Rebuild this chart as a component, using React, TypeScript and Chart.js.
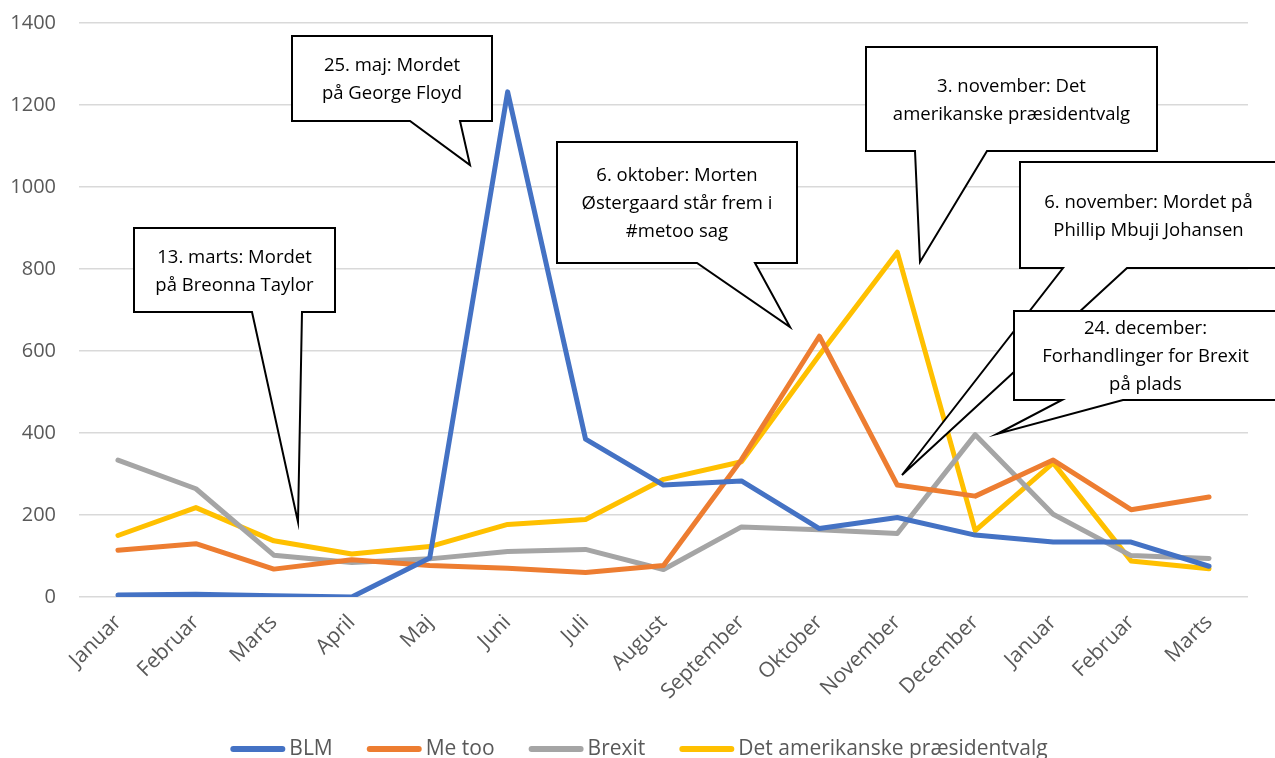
import React, { useEffect, useRef } from 'react';
import { Chart, registerables } from 'chart.js';

Chart.register(...registerables);

const MONTHS = ['Januar', 'Februar', 'Marts', 'April', 'Maj', 'Juni', 'Juli', 'August', 'September', 'Oktober', 'November', 'December', 'Januar', 'Februar', 'Marts'];

const BLM = [5, 7, 3, 0, 95, 1232, 385, 273, 283, 167, 194, 151, 134, 134, 75];
const METOO = [114, 130, 68, 91, 77, 70, 60, 77, 335, 636, 273, 246, 334, 213, 244];
const BREXIT = [334, 264, 102, 84, 93, 111, 116, 67, 171, 164, 155, 396, 202, 101, 94];
const US_ELECTION = [150, 218, 137, 105, 123, 177, 189, 287, 330, 590, 841, 162, 327, 88, 69];

const SERIES_NAMES = ['BLM', 'Me too', 'Brexit', 'Det amerikanske præsidentvalg'];
const SERIES_COLORS = ['#4472C4', '#ED7D31', '#A5A5A5', '#FFC000'];

const Y_TICKS = { min: 0, max: 1400, step: 200 };

// Callout annotations (layout, in canvas pixels): box [left, top, right, bottom], pointer base x-range, tip point
const CALLOUTS = [
  { box: [292, 36, 492, 121], base: [410, 460], tip: [470, 165], lines: ['25. maj: Mordet', 'på George Floyd'] },
  { box: [134, 228, 335, 312], base: [252, 302], tip: [298, 522], lines: ['13. marts: Mordet', 'på Breonna Taylor'] },
  { box: [557, 142, 797, 263], base: [697, 755], tip: [790, 327], lines: ['6. oktober: Morten', 'Østergaard står frem i', '#metoo sag'] },
  { box: [866, 47, 1157, 151], base: [915, 987], tip: [920, 262], lines: ['3. november: Det', 'amerikanske præsidentvalg'] },
  { box: [1020, 162, 1277, 268], base: [1063, 1127], tip: [902, 475], lines: ['6. november: Mordet på', 'Phillip Mbuji Johansen'] },
  { box: [1014, 311, 1277, 400], base: [1062, 1123], tip: [997, 434], lines: ['24. december:', 'Forhandlinger for Brexit', 'på plads'] },
];

const W = 1275;
const H = 758;
const TEXT_COLOR = '#595959';
const FONT = '"Open Sans", "DejaVu Sans", sans-serif';

export default function App() {
  const ref = useRef<HTMLCanvasElement>(null);

  useEffect(() => {
    document.body.style.margin = '0';
    const canvas = ref.current!;

    const calloutPlugin = {
      id: 'callouts',
      afterDatasetsDraw(chart: any) {
        const ctx = chart.ctx as CanvasRenderingContext2D;
        ctx.save();
        for (const c of CALLOUTS) {
          const [l, t, r, b] = c.box;
          ctx.beginPath();
          ctx.moveTo(l, t);
          ctx.lineTo(r, t);
          ctx.lineTo(r, b);
          ctx.lineTo(c.base[1], b);
          ctx.lineTo(c.tip[0], c.tip[1]);
          ctx.lineTo(c.base[0], b);
          ctx.lineTo(l, b);
          ctx.closePath();
          ctx.fillStyle = '#FFFFFF';
          ctx.fill();
          ctx.lineWidth = 2;
          ctx.strokeStyle = '#000000';
          ctx.lineJoin = 'miter';
          ctx.stroke();
          ctx.fillStyle = '#000000';
          ctx.font = `18.5px ${FONT}`;
          ctx.textAlign = 'center';
          ctx.textBaseline = 'middle';
          const cx = (l + r) / 2;
          const cy = (t + b) / 2 + 1.5;
          const lh = 28;
          c.lines.forEach((s, i) => {
            ctx.fillText(s, cx, cy + (i - (c.lines.length - 1) / 2) * lh);
          });
        }
        ctx.restore();
      },
    };

    const legendPlugin = {
      id: 'bottomLegend',
      afterDraw(chart: any) {
        const ctx = chart.ctx as CanvasRenderingContext2D;
        ctx.save();
        ctx.font = `21px ${FONT}`;
        const lineW = 55;
        const gapLT = 4;
        const gapItem = 34;
        const items = chart.data.datasets.map((d: any) => ({
          label: d.label as string,
          color: d.borderColor as string,
          tw: ctx.measureText(d.label).width,
        }));
        const total = items.reduce((s: number, it: any) => s + lineW + gapLT + it.tw, 0) + gapItem * (items.length - 1);
        let x = 639 - total / 2;
        const y = 749;
        for (const it of items) {
          ctx.beginPath();
          ctx.moveTo(x + 3, y);
          ctx.lineTo(x + lineW - 3, y);
          ctx.lineWidth = 6;
          ctx.lineCap = 'round';
          ctx.strokeStyle = it.color;
          ctx.stroke();
          ctx.fillStyle = TEXT_COLOR;
          ctx.textAlign = 'left';
          ctx.textBaseline = 'middle';
          ctx.fillText(it.label, x + lineW + gapLT, y);
          x += lineW + gapLT + it.tw + gapItem;
        }
        ctx.restore();
      },
    };

    const values = [BLM, METOO, BREXIT, US_ELECTION];

    const chart = new Chart(canvas, {
      type: 'line',
      data: {
        labels: MONTHS,
        datasets: values.map((v, i) => ({
          label: SERIES_NAMES[i],
          data: v,
          borderColor: SERIES_COLORS[i],
          backgroundColor: SERIES_COLORS[i],
          borderWidth: 5,
          pointRadius: 0,
          pointHoverRadius: 0,
          tension: 0,
          borderJoinStyle: 'round' as const,
          borderCapStyle: 'round' as const,
          fill: false,
        })),
      },
      options: {
        animation: false,
        responsive: false,
        devicePixelRatio: 1,
        layout: { padding: { top: 23, right: 27, left: 0, bottom: 0 } },
        plugins: {
          legend: { display: false },
          tooltip: { enabled: false },
        },
        scales: {
          x: {
            type: 'category',
            offset: true,
            grid: { display: false, drawTicks: false },
            border: { display: false },
            ticks: {
              autoSkip: false,
              maxRotation: 45,
              minRotation: 45,
              padding: 13,
              color: TEXT_COLOR,
              font: { family: FONT, size: 21 },
            },
            afterFit: (s: any) => {
              s.height = H - 597;
            },
          },
          y: {
            min: Y_TICKS.min,
            max: Y_TICKS.max,
            ticks: {
              stepSize: Y_TICKS.step,
              padding: 0,
              color: TEXT_COLOR,
              font: { family: FONT, size: 20 },
              callback: (v: any) => String(v),
            },
            grid: { color: '#D9D9D9', lineWidth: 1.5, drawTicks: true, tickLength: 23, tickColor: 'rgba(0,0,0,0)' },
            border: { display: false },
            afterFit: (s: any) => {
              s.width = 79;
            },
          },
        },
      },
      plugins: [calloutPlugin, legendPlugin],
    });

    return () => chart.destroy();
  }, []);

  return (
    <div style={{ position: 'fixed', left: 0, top: 0, width: W, height: H, background: '#fff' }}>
      <canvas ref={ref} width={W} height={H} style={{ width: W, height: H, display: 'block' }} />
    </div>
  );
}
